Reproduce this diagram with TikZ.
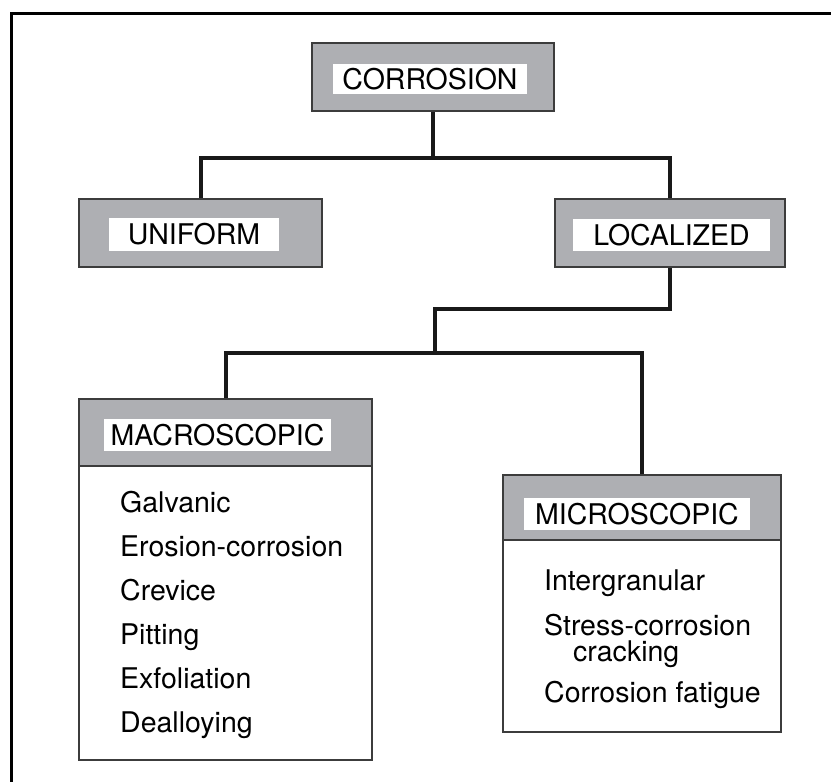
\documentclass[tikz,border=0pt]{standalone}
\usepackage{fontspec}
\setmainfont{TeX Gyre Heros}
\usepackage{xcolor}
\usetikzlibrary{positioning}
\definecolor{boxgray}{RGB}{174,175,179}
\definecolor{edgegray}{RGB}{60,60,60}

\begin{document}
\begin{tikzpicture}[x=1pt, y=-1pt,
        every node/.style={font=\fontsize{28.5}{34}\selectfont},
        headbox/.style={rectangle, draw=edgegray, line width=1.5pt, fill=boxgray, inner sep=0pt},
        tagbox/.style={rectangle, fill=white, inner sep=0pt, align=center},
        listbox/.style={rectangle, draw=edgegray, line width=1.2pt, fill=white, inner sep=0pt},
        entry/.style={anchor=base west, inner sep=0pt},
        conn/.style={line width=4pt, draw=black!90}]

        \useasboundingbox (0,0) rectangle (831,782);
        % frame, cut at right and bottom
        \draw[line width=3pt] (11,800) -- (11,13) -- (850,13);

        \node (corr) [headbox, minimum width=242pt, minimum height=68pt] at (433,77) {};
        \node (corrtag) [tagbox, minimum width=194pt, minimum height=30pt] at (430,79) {CORROSION};

        \node (unif) [headbox, minimum width=243pt, minimum height=68pt] at (200.5,233) {};
        \node (uniftag) [tagbox, minimum width=170pt, minimum height=33pt] at (194,234.5) {UNIFORM};

        \node (loc) [headbox, minimum width=230pt, minimum height=68pt] at (670,233) {};
        \node (loctag) [tagbox, minimum width=197pt, minimum height=32pt] at (671.5,235) {LOCALIZED};

        \node (macro) [listbox, minimum width=293pt, minimum height=361pt] at (225.5,579.5) {};
        \node (macrohead) [headbox, minimum width=293pt, minimum height=67pt] at (225.5,432.5) {};
        \node (macrotag) [tagbox, minimum width=227pt, minimum height=32pt] at (217.5,435) {MACROSCOPIC};

        \node (micro) [listbox, minimum width=278pt, minimum height=257pt] at (642,603.5) {};
        \node (microhead) [headbox, minimum width=278pt, minimum height=65pt] at (642,507.5) {};
        \node (microtag) [tagbox, minimum width=226pt, minimum height=32pt] at (637,514) {MICROSCOPIC};

        % forms of each kind
        \foreach \txt [count=\i] in {Galvanic, Erosion-corrosion, Crevice, Pitting, Exfoliation, Dealloying}
            \node (mac\i) [entry] at (120,{468+44*\i}) {\txt};
        \node (mic1) [entry] at (544,590) {Intergranular};
        \node (mic2) [entry] at (544,635) {Stress-corrosion};
        \node (mic3) [entry] at (573,661) {cracking};
        \node (mic4) [entry] at (544,702) {Corrosion fatigue};

        \coordinate (j1) at (433,158);
        \coordinate (j2) at (435,309);
        \coordinate (j3) at (435,353);

        \draw[conn] (corr.south) -- (j1);
        \draw[conn] (unif.north) |- (j1) -| (loc.north);
        \draw[conn] (loc.south) |- (j2) -- (j3);
        \draw[conn] (macro.north) |- (j3) -| (micro.north);
    \end{tikzpicture}
\end{document}
